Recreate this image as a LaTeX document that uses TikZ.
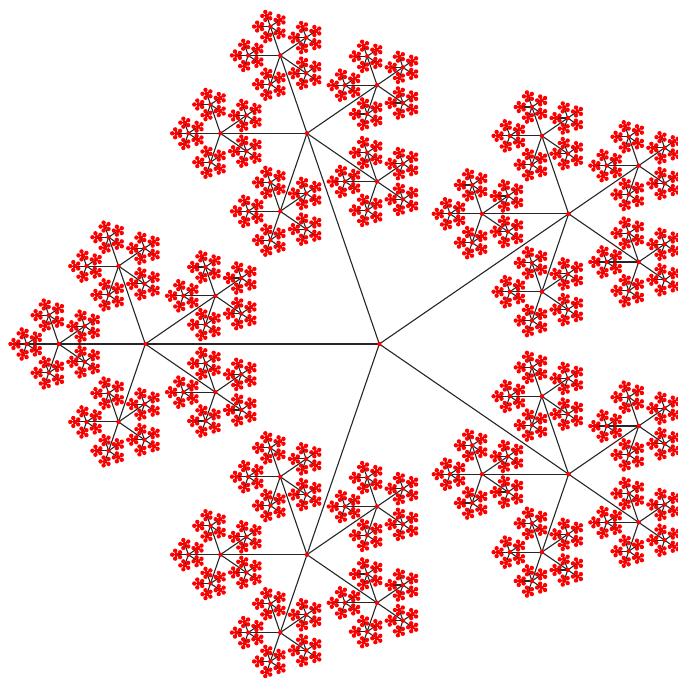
\documentclass[tikz,border=0pt]{standalone}

% one node and its five twigs, #1 = point, #2 = levels left
\newcommand\pentabranch[2]{%
  \ifnum#2>0
    \pgfmathsetmacro\seglen{0.37^(5-#2)}%
    \pgfmathtruncatemacro\down{#2-1}%
    \foreach \ang in {180,108,36,-36,-108} {
      \draw [twig] (#1) -- ++(\ang:\seglen) coordinate (p#2);
      \edef\next{\noexpand\pentabranch{p#2}{\down}}\next
    }%
  \fi
  \fill [knot] (#1) circle (2.2pt);%
}

\begin{document}
\begin{tikzpicture}[x = 234pt, y = 221.5pt,
    twig/.style = {line width = 1.1pt, black!85},
    knot/.style = {red}]
  \useasboundingbox (-379.3pt,-338pt) rectangle (297.7pt,344pt);
  \coordinate (hub) at (0,0);
  \pentabranch{hub}{5}
\end{tikzpicture}
\end{document}
